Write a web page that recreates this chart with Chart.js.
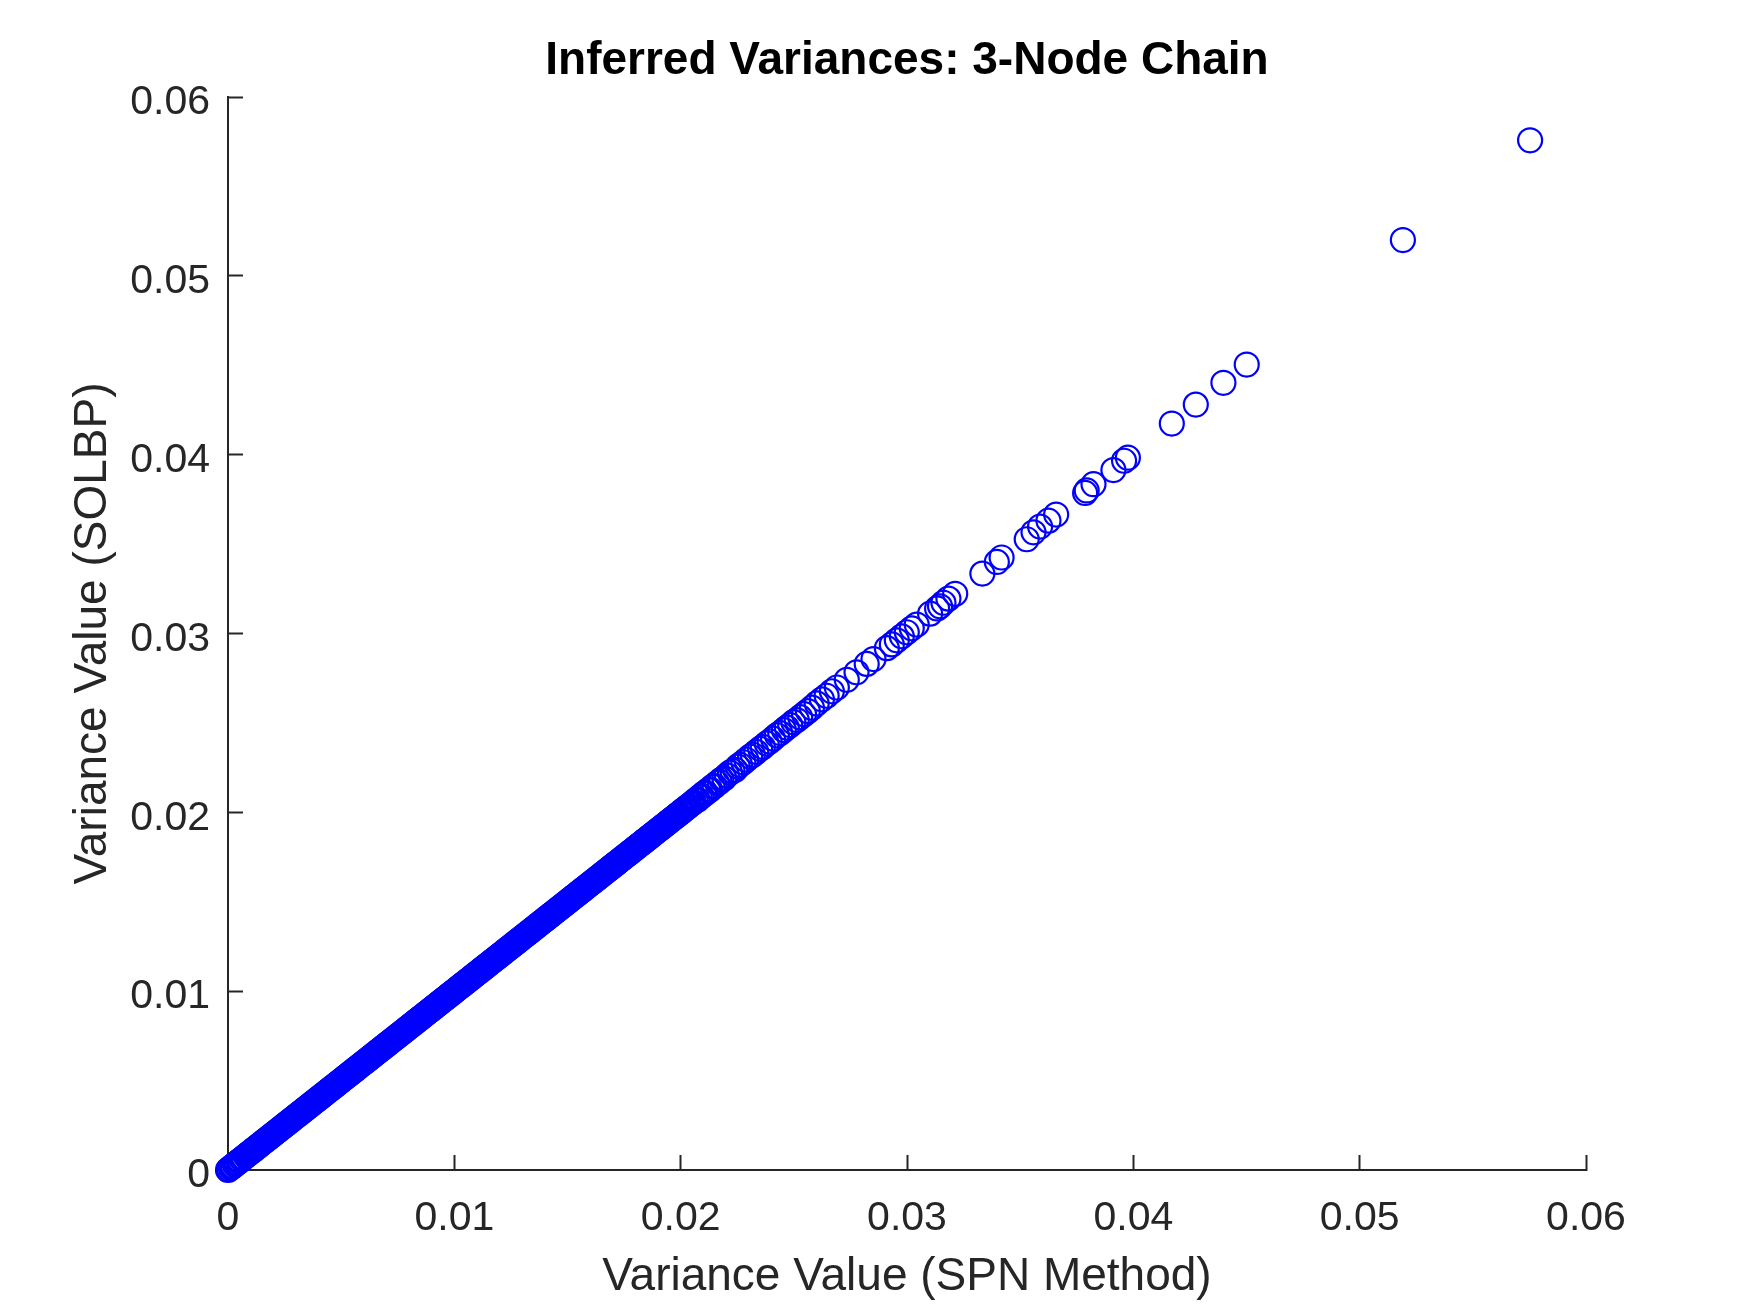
<!DOCTYPE html>
<html><head><meta charset="utf-8">
<script src="https://cdn.jsdelivr.net/npm/chart.js@4.4.1/dist/chart.umd.min.js"></script>
<style>html,body{margin:0;padding:0;background:#fff;}#wrap{width:1750px;height:1313px;position:relative;}</style>
</head><body><div id="wrap"><canvas id="c"></canvas></div>
<script>
const titleText = 'Inferred Variances: 3-Node Chain';
const xAxisLabel = 'Variance Value (SPN Method)';
const yAxisLabel = 'Variance Value (SOLBP)';
const tickLabels = ['0', '0.01', '0.02', '0.03', '0.04', '0.05', '0.06'];
const axisMin = 0, axisMax = 0.06, axisStep = 0.01;

const spnVariance = [
0,0.00005,0.00012,0.00018,0.00022,0.0003,0.00036,0.00041,
0.00048,0.00053,0.0006,0.00066,0.0007,0.00078,0.00084,0.00089,
0.00096,0.00101,0.00108,0.00114,0.00118,0.00126,0.00132,0.00137,
0.00144,0.00149,0.00156,0.00162,0.00166,0.00174,0.0018,0.00185,
0.00192,0.00197,0.00204,0.0021,0.00214,0.00222,0.00228,0.00233,
0.0024,0.00245,0.00252,0.00258,0.00262,0.0027,0.00276,0.00281,
0.00288,0.00293,0.003,0.00306,0.0031,0.00318,0.00324,0.00329,
0.00336,0.00341,0.00348,0.00354,0.00358,0.00366,0.00372,0.00377,
0.00384,0.00389,0.00396,0.00402,0.00406,0.00414,0.0042,0.00425,
0.00432,0.00437,0.00444,0.0045,0.00454,0.00462,0.00468,0.00473,
0.0048,0.00485,0.00492,0.00498,0.00502,0.0051,0.00516,0.00521,
0.00528,0.00533,0.0054,0.00546,0.0055,0.00558,0.00564,0.00569,
0.00576,0.00581,0.00588,0.00594,0.00598,0.00606,0.00612,0.00617,
0.00624,0.00629,0.00636,0.00642,0.00646,0.00654,0.0066,0.00665,
0.00672,0.00677,0.00684,0.0069,0.00694,0.00702,0.00708,0.00713,
0.0072,0.00725,0.00732,0.00738,0.00742,0.0075,0.00756,0.00761,
0.00768,0.00773,0.0078,0.00786,0.0079,0.00798,0.00804,0.00809,
0.00816,0.00821,0.00828,0.00834,0.00838,0.00846,0.00852,0.00857,
0.00864,0.00869,0.00876,0.00882,0.00886,0.00894,0.009,0.00905,
0.00912,0.00917,0.00924,0.0093,0.00934,0.00942,0.00948,0.00953,
0.0096,0.00965,0.00972,0.00978,0.00982,0.0099,0.00996,0.01001,
0.01008,0.01013,0.0102,0.01026,0.0103,0.01038,0.01044,0.01049,
0.01056,0.01061,0.01068,0.01074,0.01078,0.01086,0.01092,0.01097,
0.01104,0.01109,0.01116,0.01122,0.01126,0.01134,0.0114,0.01145,
0.01152,0.01157,0.01164,0.0117,0.01174,0.01182,0.01188,0.01193,
0.012,0.01205,0.01212,0.01218,0.01222,0.0123,0.01236,0.01241,
0.01248,0.01253,0.0126,0.01266,0.0127,0.01278,0.01284,0.01289,
0.01296,0.01301,0.01308,0.01314,0.01318,0.01326,0.01332,0.01337,
0.01344,0.01349,0.01356,0.01362,0.01366,0.01374,0.0138,0.01385,
0.01392,0.01397,0.01404,0.0141,0.01414,0.01422,0.01428,0.01433,
0.0144,0.01445,0.01452,0.01458,0.01462,0.0147,0.01476,0.01481,
0.01488,0.01493,0.015,0.01506,0.0151,0.01518,0.01524,0.01529,
0.01536,0.01541,0.01548,0.01554,0.01558,0.01566,0.01572,0.01577,
0.01584,0.01589,0.01596,0.01602,0.01606,0.01614,0.0162,0.01625,
0.01632,0.01637,0.01644,0.0165,0.01654,0.01662,0.01668,0.01673,
0.0168,0.01685,0.01692,0.01698,0.01702,0.0171,0.01716,0.01721,
0.01728,0.01733,0.0174,0.01746,0.0175,0.01758,0.01764,0.01769,
0.01776,0.01781,0.01788,0.01794,0.01798,0.01806,0.01812,0.01817,
0.01824,0.01829,0.01836,0.01842,0.01846,0.01854,0.0186,0.01865,
0.01872,0.01877,0.01884,0.0189,0.01894,0.01902,0.01908,0.01913,
0.0192,0.01925,0.01932,0.01938,0.01942,0.0195,0.01956,0.01961,
0.01968,0.01973,0.0198,0.01986,0.0199,0.01998,0.02004,0.02009,
0.02016,0.02021,0.02028,0.02034,0.02038,0.02046,0.02052,0.02057,
0.02066,0.02075,0.02084,0.02093,0.02103,0.02111,0.02122,0.0213,
0.02141,0.0215,0.02161,0.02172,0.0218,0.02193,0.02204,0.02218,
0.02229,0.02241,0.02252,0.02262,0.02277,0.0229,0.02307,0.02319,
0.02334,0.02351,0.02363,0.0238,0.02393,0.02408,0.02425,0.0244,
0.02456,0.02469,0.02484,0.02498,0.02513,0.02528,0.02545,0.02562,
0.0258,0.02601,0.02624,0.02645,0.02668,0.0269,0.02734,0.02777,
0.02822,0.02852,0.02911,0.02933,0.02955,0.02977,0.02999,0.03021,
0.03043,0.03102,0.03133,0.03146,0.03161,0.03183,0.03213,0.03333,
0.03397,0.03418,0.03529,0.03559,0.03588,0.03625,0.03659,0.03787,
0.03794,0.03824,0.03912,0.03959,0.03976,0.0417,0.04276,0.04398,
0.04501,0.05191,0.05753
];

const solbpVariance = [
0,0.00005,0.00012,0.00018,0.00022,0.0003,0.00036,0.00041,
0.00048,0.00053,0.0006,0.00066,0.0007,0.00078,0.00084,0.00089,
0.00096,0.00101,0.00108,0.00114,0.00118,0.00126,0.00132,0.00137,
0.00144,0.00149,0.00156,0.00162,0.00166,0.00174,0.0018,0.00185,
0.00192,0.00197,0.00204,0.0021,0.00214,0.00222,0.00228,0.00233,
0.0024,0.00245,0.00252,0.00258,0.00262,0.0027,0.00276,0.00281,
0.00288,0.00293,0.003,0.00306,0.0031,0.00318,0.00324,0.00329,
0.00336,0.00341,0.00348,0.00354,0.00358,0.00366,0.00372,0.00377,
0.00384,0.00389,0.00396,0.00402,0.00406,0.00414,0.0042,0.00425,
0.00432,0.00437,0.00444,0.0045,0.00454,0.00462,0.00468,0.00473,
0.0048,0.00485,0.00492,0.00498,0.00502,0.0051,0.00516,0.00521,
0.00528,0.00533,0.0054,0.00546,0.0055,0.00558,0.00564,0.00569,
0.00576,0.00581,0.00588,0.00594,0.00598,0.00606,0.00612,0.00617,
0.00624,0.00629,0.00636,0.00642,0.00646,0.00654,0.0066,0.00665,
0.00672,0.00677,0.00684,0.0069,0.00694,0.00702,0.00708,0.00713,
0.0072,0.00725,0.00732,0.00738,0.00742,0.0075,0.00756,0.00761,
0.00768,0.00773,0.0078,0.00786,0.0079,0.00798,0.00804,0.00809,
0.00816,0.00821,0.00828,0.00834,0.00838,0.00846,0.00852,0.00857,
0.00864,0.00869,0.00876,0.00882,0.00886,0.00894,0.009,0.00905,
0.00912,0.00917,0.00924,0.0093,0.00934,0.00942,0.00948,0.00953,
0.0096,0.00965,0.00972,0.00978,0.00982,0.0099,0.00996,0.01001,
0.01008,0.01013,0.0102,0.01026,0.0103,0.01038,0.01044,0.01049,
0.01056,0.01061,0.01068,0.01074,0.01078,0.01086,0.01092,0.01097,
0.01104,0.01109,0.01116,0.01122,0.01126,0.01134,0.0114,0.01145,
0.01152,0.01157,0.01164,0.0117,0.01174,0.01182,0.01188,0.01193,
0.012,0.01205,0.01212,0.01218,0.01222,0.0123,0.01236,0.01241,
0.01248,0.01253,0.0126,0.01266,0.0127,0.01278,0.01284,0.01289,
0.01296,0.01301,0.01308,0.01314,0.01318,0.01326,0.01332,0.01337,
0.01344,0.01349,0.01356,0.01362,0.01366,0.01374,0.0138,0.01385,
0.01392,0.01397,0.01404,0.0141,0.01414,0.01422,0.01428,0.01433,
0.0144,0.01445,0.01452,0.01458,0.01462,0.0147,0.01476,0.01481,
0.01488,0.01493,0.015,0.01506,0.0151,0.01518,0.01524,0.01529,
0.01536,0.01541,0.01548,0.01554,0.01558,0.01566,0.01572,0.01577,
0.01584,0.01589,0.01596,0.01602,0.01606,0.01614,0.0162,0.01625,
0.01632,0.01637,0.01644,0.0165,0.01654,0.01662,0.01668,0.01673,
0.0168,0.01685,0.01692,0.01698,0.01702,0.0171,0.01716,0.01721,
0.01728,0.01733,0.0174,0.01746,0.0175,0.01758,0.01764,0.01769,
0.01776,0.01781,0.01788,0.01794,0.01798,0.01806,0.01812,0.01817,
0.01824,0.01829,0.01836,0.01842,0.01846,0.01854,0.0186,0.01865,
0.01872,0.01877,0.01884,0.0189,0.01894,0.01902,0.01908,0.01913,
0.0192,0.01925,0.01932,0.01938,0.01942,0.0195,0.01956,0.01961,
0.01968,0.01973,0.0198,0.01986,0.0199,0.01998,0.02004,0.02009,
0.02016,0.02021,0.02028,0.02034,0.02038,0.02046,0.02052,0.02057,
0.02068,0.02071,0.02086,0.0209,0.02106,0.02108,0.02125,0.02127,
0.02144,0.02147,0.02164,0.0217,0.02183,0.0219,0.02207,0.02222,
0.02231,0.02238,0.02256,0.02266,0.0228,0.02294,0.02312,0.02322,
0.02338,0.02355,0.02366,0.02385,0.02396,0.02412,0.02431,0.02443,
0.0246,0.02474,0.02488,0.02504,0.02516,0.02532,0.02549,0.02566,
0.02585,0.02609,0.02632,0.02652,0.02677,0.02698,0.02741,0.02783,
0.0283,0.02857,0.02918,0.02939,0.02962,0.02984,0.03007,0.03029,
0.0305,0.03111,0.0314,0.03152,0.03172,0.03195,0.03222,0.03335,
0.034,0.03425,0.03527,0.03566,0.03598,0.03631,0.03665,0.03786,
0.038,0.03835,0.03914,0.03966,0.03983,0.04174,0.0428,0.04402,
0.04504,0.052,0.05758
];

const FONT = "'Liberation Sans', Arial, Helvetica, sans-serif";
const AXIS_COLOR = '#262626';
const points = spnVariance.map((x, i) => ({ x: x, y: solbpVariance[i] }));

Chart.defaults.font.family = FONT;

function axisTickLabel(v) {
  const idx = Math.round((v - axisMin) / axisStep);
  return tickLabels[idx] !== undefined ? tickLabels[idx] : '';
}

new Chart(document.getElementById('c'), {
  type: 'scatter',
  data: {
    datasets: [{
      data: points,
      pointStyle: 'circle',
      pointRadius: 12,
      pointHoverRadius: 12,
      pointBorderWidth: 2.2,
      pointHoverBorderWidth: 2.2,
      pointBackgroundColor: 'rgba(0,0,0,0)',
      pointBorderColor: '#0000ff',
      clip: false
    }]
  },
  options: {
    responsive: true,
    maintainAspectRatio: false,
    animation: false,
    devicePixelRatio: 1,
    events: [],
    layout: { padding: { left: 0, right: 164, top: 0, bottom: 0 } },
    plugins: {
      legend: { display: false },
      tooltip: { enabled: false },
      title: {
        display: true,
        text: titleText,
        fullSize: false,
        color: '#000000',
        font: { size: 46, weight: 'bold', family: FONT },
        padding: { top: 33.6, bottom: 8.2 }
      }
    },
    scales: {
      x: {
        type: 'linear',
        position: 'bottom',
        min: axisMin,
        max: axisMax,
        afterFit: function (s) { s.height = 143; },
        ticks: { stepSize: axisStep, color: AXIS_COLOR, font: { size: 41 }, padding: 39, maxRotation: 0, autoSkip: false, callback: axisTickLabel },
        grid: { display: true, drawOnChartArea: false, drawTicks: true, tickLength: -15, tickWidth: 2, tickColor: AXIS_COLOR },
        border: { display: true, color: AXIS_COLOR, width: 2 },
        title: { display: true, text: xAxisLabel, color: AXIS_COLOR, font: { size: 46 }, padding: { top: 0, bottom: 8 } }
      },
      y: {
        type: 'linear',
        position: 'left',
        min: axisMin,
        max: axisMax,
        afterFit: function (s) { s.width = 228; },
        ticks: { stepSize: axisStep, color: AXIS_COLOR, font: { size: 41 }, padding: 33, labelOffset: 6, autoSkip: false, callback: axisTickLabel },
        grid: { display: true, drawOnChartArea: false, drawTicks: true, tickLength: -15, tickWidth: 2, tickColor: AXIS_COLOR },
        border: { display: true, color: AXIS_COLOR, width: 2 },
        title: { display: true, text: yAxisLabel, color: AXIS_COLOR, font: { size: 46 }, padding: { top: 66, bottom: 0 } }
      }
    }
  }
});
</script>
</body></html>
